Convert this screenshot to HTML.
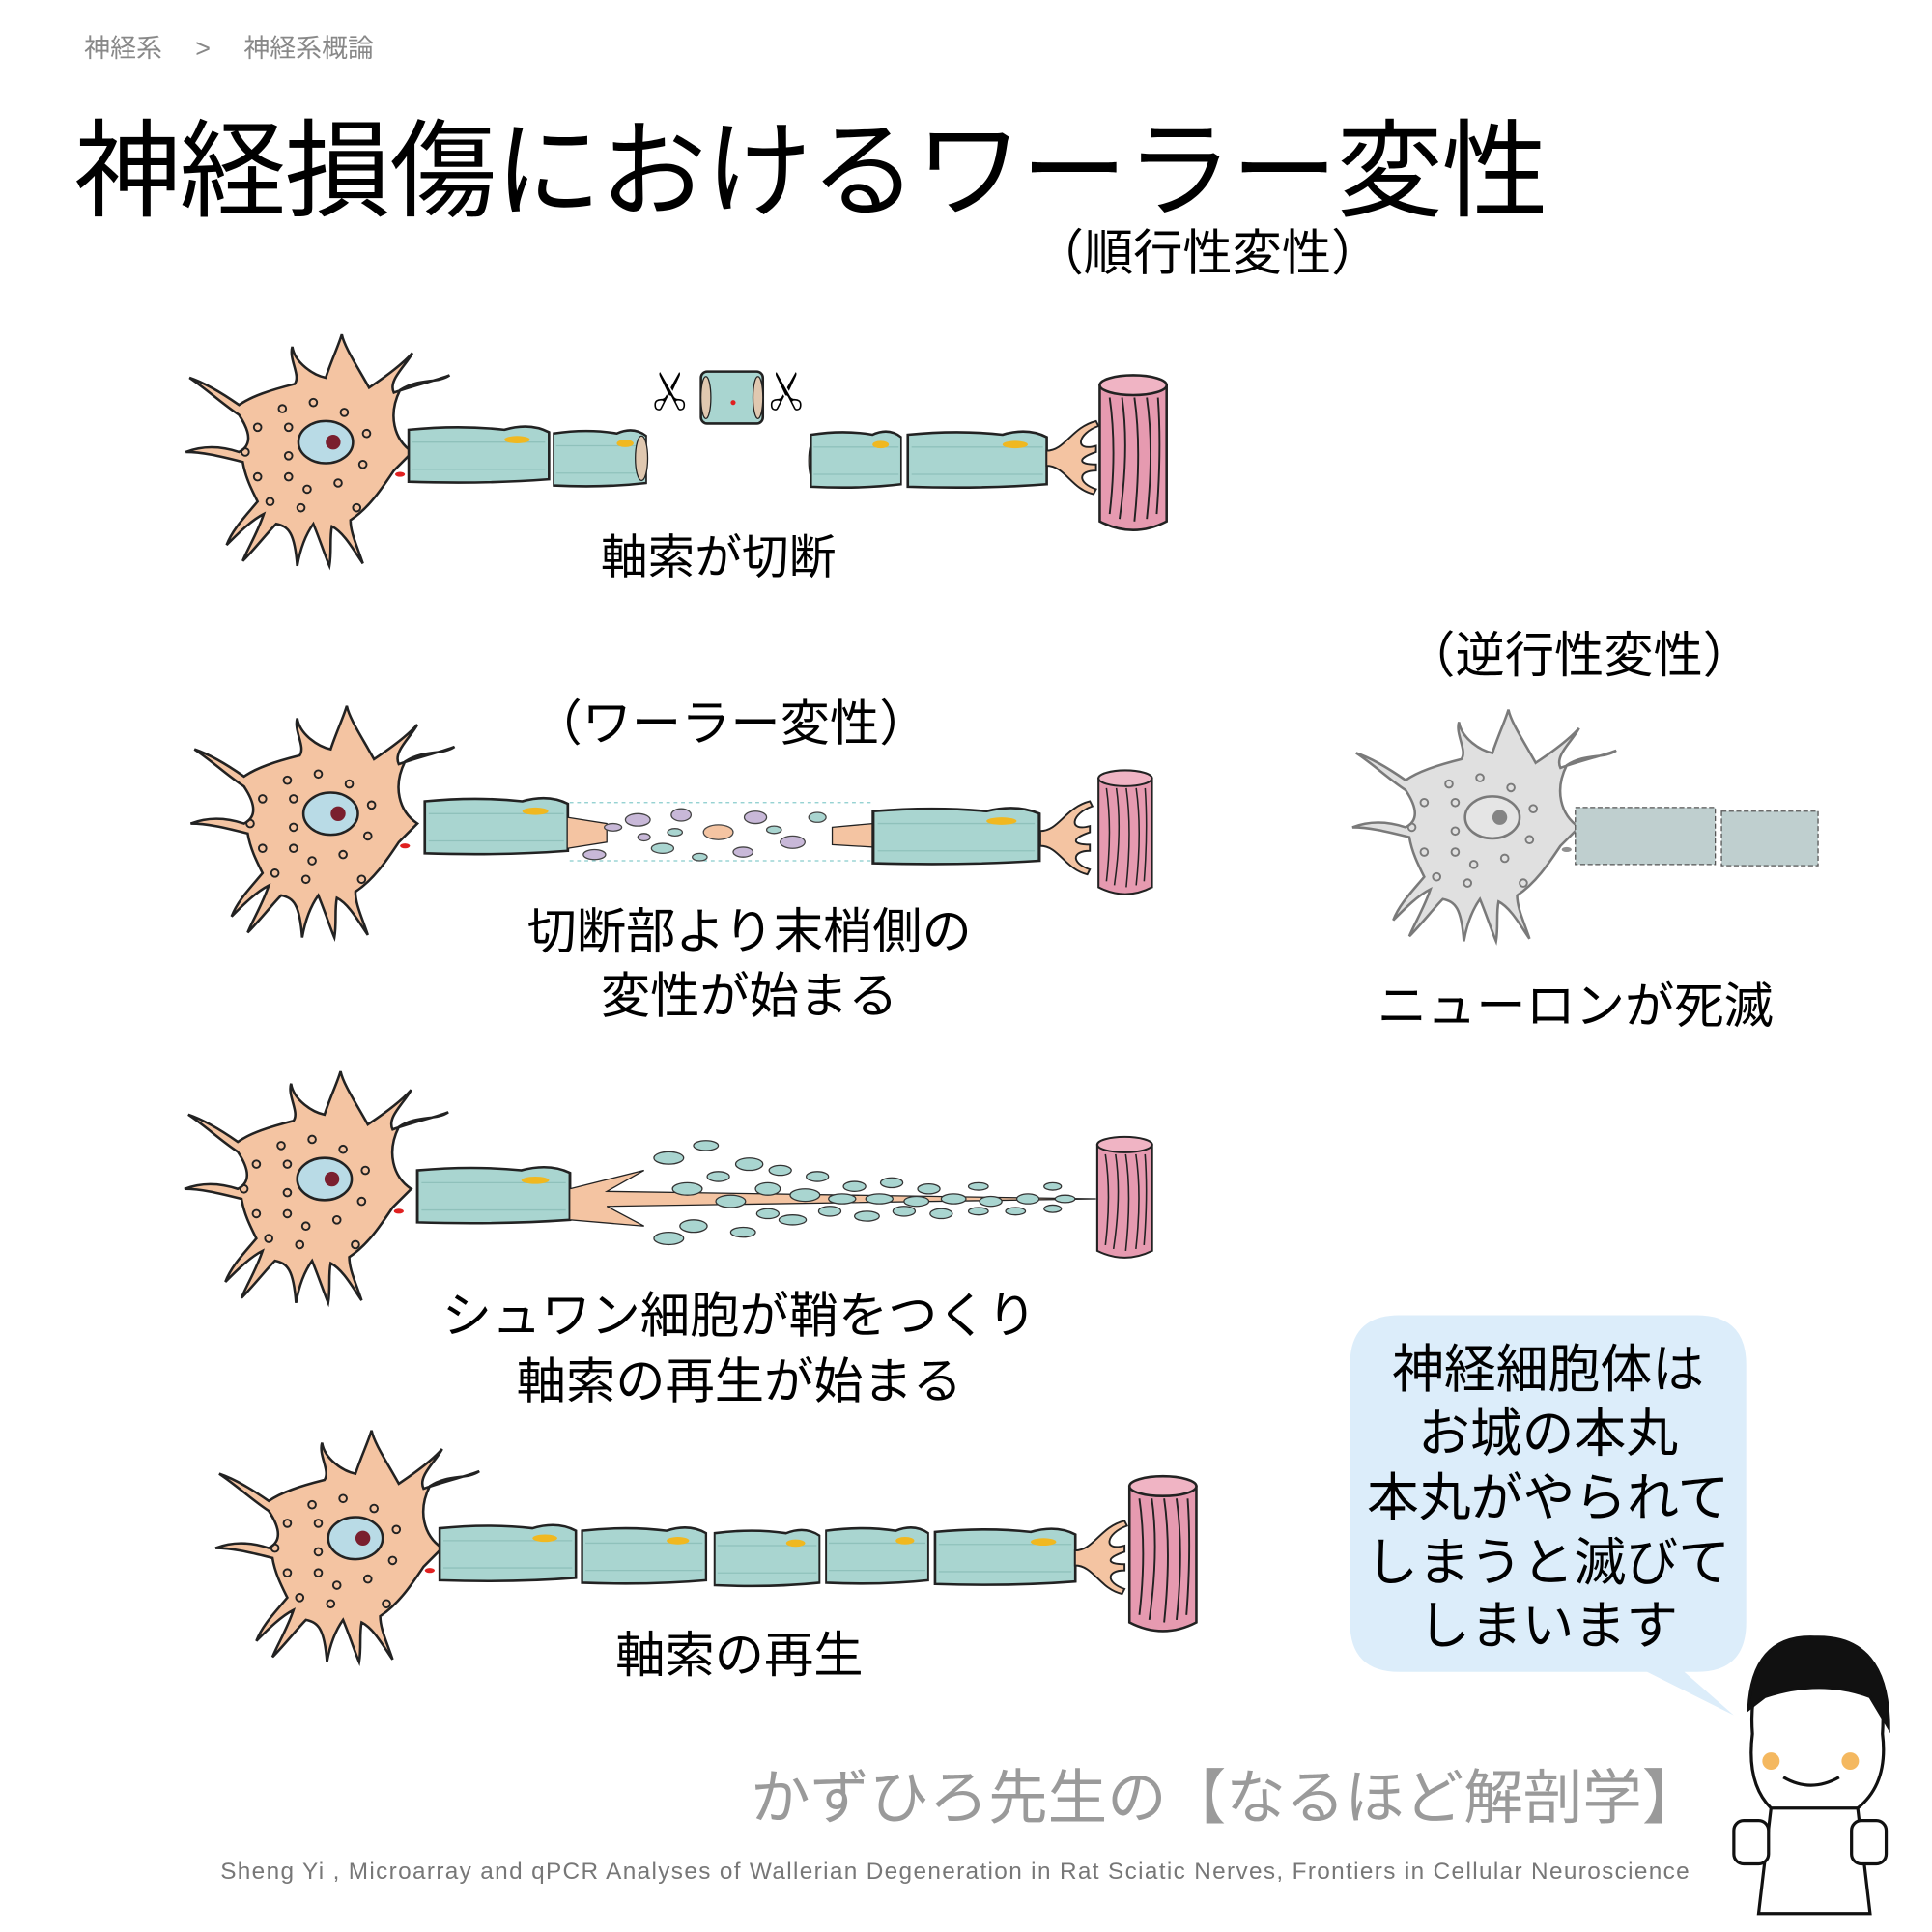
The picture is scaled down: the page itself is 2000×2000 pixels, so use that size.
<!DOCTYPE html>
<html><head><meta charset="utf-8"><style>
html,body{margin:0;padding:0;background:#fff;width:2000px;height:2000px;overflow:hidden}
svg{display:block}
text{font-family:"Liberation Sans","Noto Sans CJK JP",sans-serif}
</style></head><body>
<svg width="2000" height="2000" viewBox="0 0 1560 1560" xmlns="http://www.w3.org/2000/svg">
<defs>
<g id="soma">
<path d="M75,0 C60,-10 55,-30 65,-50 C80,-60 95,-55 105,-62 C95,-58 80,-55 60,-48 C55,-58 70,-70 75,-80 C68,-72 55,-62 40,-52 C30,-70 20,-85 18,-95 C15,-85 10,-75 5,-60 C-5,-62 -20,-72 -22,-85 C-25,-75 -15,-62 -20,-55 C-40,-50 -55,-45 -65,-38 C-75,-45 -90,-55 -105,-60 C-90,-50 -80,-40 -65,-30 C-55,-15 -55,-5 -65,0 C-80,-5 -95,-5 -108,0 C-95,0 -82,3 -62,8 C-60,20 -55,30 -50,40 C-60,52 -70,62 -75,75 C-65,65 -55,55 -45,50 C-50,65 -58,78 -62,88 C-52,78 -42,65 -35,58 C-25,60 -20,65 -18,92 C-15,75 -10,65 -5,58 C0,70 5,85 8,92 C10,80 8,70 10,60 C20,65 28,80 35,90 C30,75 25,65 25,55 C40,45 50,30 60,15 Z" fill="#f4c4a2" stroke="#222" stroke-width="2"/>
<ellipse cx="5" cy="-8" rx="22" ry="17" fill="#b9dbe6" stroke="#222" stroke-width="2"/>
<circle cx="11" cy="-8" r="6" fill="#7a1f2e"/>
<g fill="none" stroke="#222" stroke-width="1.5">
<circle cx="-30" cy="-35" r="3"/><circle cx="-5" cy="-40" r="3"/><circle cx="20" cy="-32" r="3"/><circle cx="-50" cy="-20" r="3"/><circle cx="-25" cy="-20" r="3"/><circle cx="-60" cy="0" r="3"/><circle cx="-25" cy="3" r="3"/><circle cx="-50" cy="20" r="3"/><circle cx="-25" cy="20" r="3"/><circle cx="-10" cy="30" r="3"/><circle cx="15" cy="25" r="3"/><circle cx="35" cy="10" r="3"/><circle cx="38" cy="-15" r="3"/><circle cx="-40" cy="40" r="3"/><circle cx="-15" cy="45" r="3"/><circle cx="30" cy="45" r="3"/></g>
<ellipse cx="65" cy="18" rx="4" ry="2" fill="#e02020"/>
</g>
<g id="seg1"><path d="M0,2 Q40,-2 75,2 Q95,-4 110,4 L110,42 Q60,46 0,44 Z" fill="#a9d5d0" stroke="#222" stroke-width="2"/><line x1="3" y1="12" x2="107" y2="12" stroke="#8fc1bb"/><line x1="3" y1="34" x2="107" y2="34" stroke="#8fc1bb"/><ellipse cx="85" cy="10" rx="10" ry="3" fill="#f0b820"/></g>
<g id="muscle"><path d="M0,8 Q27,-6 54,8 L54,118 Q27,132 0,118 Z" fill="#e69ab0" stroke="#222" stroke-width="2"/><ellipse cx="27" cy="8" rx="27" ry="8" fill="#f0b4c4" stroke="#222" stroke-width="2"/><g stroke="#222" stroke-width="1.5" fill="none"><path d="M8,18 Q14,60 8,112"/><path d="M18,18 Q24,60 16,116"/><path d="M28,18 Q34,60 28,118"/><path d="M38,18 Q44,60 38,116"/><path d="M47,18 Q50,60 46,112"/></g></g>
<g id="term" stroke="#222" stroke-width="1.5" fill="#f4c4a2"><path d="M0,-6 C15,-6 20,-25 40,-30 L42,-26 C25,-20 22,-5 40,-10 L40,-5 C25,0 25,5 40,5 L40,10 C25,10 25,20 40,25 L38,29 C20,25 15,6 0,6 Z"/></g>
</defs>

<text x="68" y="46" font-size="21" fill="#888">神経系　 &gt; 　神経系概論</text>
<text x="60" y="168" font-size="86" fill="#000" textLength="1190">神経損傷におけるワーラー変性</text>
<text x="975" y="218" font-size="40" text-anchor="middle">（順行性変性）</text>

<!-- Row 1 -->
<use href="#soma" transform="translate(258,365)"/>
<use href="#seg1" transform="translate(330,345) scale(1.03,1)"/>
<use href="#seg1" transform="translate(447,348) scale(0.68,1)"/>
<ellipse cx="518" cy="370" rx="5" ry="18" fill="#e0c8b0" stroke="#222"/>
<rect x="566" y="300" width="50" height="42" rx="5" fill="#a9d5d0" stroke="#222" stroke-width="2"/>
<ellipse cx="570" cy="321" rx="4" ry="17" fill="#e0c8b0" stroke="#222"/><ellipse cx="612" cy="321" rx="4" ry="17" fill="#e0c8b0" stroke="#222"/>
<circle cx="592" cy="325" r="2" fill="#e02020"/>
<text x="0" y="0" font-size="34" text-anchor="middle" transform="translate(543,316) rotate(-90)" dominant-baseline="central">✂</text>
<text x="0" y="0" font-size="34" text-anchor="middle" transform="translate(637,316) rotate(-90)" dominant-baseline="central">✂</text>
<ellipse cx="658" cy="372" rx="5" ry="18" fill="#e0c8b0" stroke="#222"/>
<use href="#seg1" transform="translate(655,349) scale(0.66,1)"/>
<use href="#seg1" transform="translate(733,349) scale(1.02,1)"/>
<use href="#term" transform="translate(845,370)"/>
<use href="#muscle" transform="translate(888,303)"/>
<text x="580" y="463" font-size="38" text-anchor="middle">軸索が切断</text>

<!-- Row 2 -->
<text x="590" y="598" font-size="40" text-anchor="middle">（ワーラー変性）</text>
<use href="#soma" transform="translate(262,665)"/>
<use href="#seg1" transform="translate(343,645) scale(1.05,1)"/>
<line x1="460" y1="648" x2="705" y2="648" stroke="#8cc" stroke-dasharray="3,3"/>
<line x1="460" y1="695" x2="705" y2="695" stroke="#8cc" stroke-dasharray="3,3"/>
<path d="M458,660 L490,665 L490,680 L458,685 Z" fill="#f4c4a2" stroke="#222"/>
<g fill="#c8b8d8" stroke="#444" stroke-width="1">
<ellipse cx="515" cy="662" rx="10" ry="5"/><ellipse cx="550" cy="658" rx="8" ry="5"/><ellipse cx="580" cy="672" rx="12" ry="6" fill="#f4c4a2"/><ellipse cx="610" cy="660" rx="9" ry="5"/><ellipse cx="640" cy="680" rx="10" ry="5"/><ellipse cx="535" cy="685" rx="9" ry="4" fill="#a9d5d0"/><ellipse cx="600" cy="688" rx="8" ry="4"/><ellipse cx="660" cy="660" rx="7" ry="4" fill="#a9d5d0"/><ellipse cx="480" cy="690" rx="9" ry="4"/><ellipse cx="520" cy="676" rx="5" ry="3"/><ellipse cx="625" cy="670" rx="6" ry="3" fill="#a9d5d0"/><ellipse cx="565" cy="692" rx="6" ry="3" fill="#a9d5d0"/><ellipse cx="495" cy="668" rx="7" ry="3"/><ellipse cx="545" cy="672" rx="6" ry="3" fill="#a9d5d0"/></g>
<path d="M672,668 L705,665 L705,684 L672,682 Z" fill="#f4c4a2" stroke="#222"/>
<use href="#seg1" transform="translate(705,653) scale(1.22,1)"/>
<use href="#term" transform="translate(840,677)"/>
<use href="#muscle" transform="translate(887,622) scale(0.8,0.8)"/>
<text x="605" y="766" font-size="40" text-anchor="middle">切断部より末梢側の</text>
<text x="605" y="818" font-size="40" text-anchor="middle">変性が始まる</text>

<!-- degenerated -->
<text x="1275" y="543" font-size="40" text-anchor="middle">（逆行性変性）</text>
<use href="#soma" transform="translate(1200,668)" opacity="0.6" style="filter:grayscale(1)"/>
<rect x="1272" y="652" width="113" height="46" fill="#bfcfcf" stroke="#555" stroke-dasharray="4,2"/>
<rect x="1390" y="655" width="78" height="44" fill="#bfcfcf" stroke="#555" stroke-dasharray="4,2"/>
<text x="1272" y="826" font-size="40" text-anchor="middle">ニューロンが死滅</text>

<!-- Row 3 -->
<use href="#soma" transform="translate(257,960)"/>
<use href="#seg1" transform="translate(337,943) scale(1.12,1)"/>
<path d="M460,960 L520,945 L490,962 L885,968 L490,974 L520,990 L460,985 Z" fill="#f4c4a2" stroke="#222"/>
<g fill="#a9d5d0" stroke="#333" stroke-width="1">
<ellipse cx="540" cy="935" rx="12" ry="5"/><ellipse cx="570" cy="925" rx="10" ry="4"/><ellipse cx="605" cy="940" rx="11" ry="5"/><ellipse cx="555" cy="960" rx="12" ry="5"/><ellipse cx="590" cy="970" rx="12" ry="5"/><ellipse cx="620" cy="960" rx="10" ry="5"/><ellipse cx="650" cy="965" rx="12" ry="5"/><ellipse cx="680" cy="968" rx="11" ry="4"/><ellipse cx="710" cy="968" rx="11" ry="4"/><ellipse cx="740" cy="970" rx="10" ry="4"/><ellipse cx="770" cy="968" rx="10" ry="4"/><ellipse cx="800" cy="970" rx="9" ry="4"/><ellipse cx="830" cy="968" rx="9" ry="4"/><ellipse cx="860" cy="968" rx="8" ry="3"/><ellipse cx="560" cy="990" rx="11" ry="5"/><ellipse cx="600" cy="995" rx="10" ry="4"/><ellipse cx="640" cy="985" rx="11" ry="4"/><ellipse cx="700" cy="982" rx="10" ry="4"/><ellipse cx="760" cy="980" rx="9" ry="4"/><ellipse cx="820" cy="978" rx="8" ry="3"/><ellipse cx="540" cy="1000" rx="12" ry="5"/><ellipse cx="660" cy="950" rx="9" ry="4"/><ellipse cx="720" cy="955" rx="9" ry="4"/><ellipse cx="790" cy="958" rx="8" ry="3"/><ellipse cx="850" cy="958" rx="7" ry="3"/><ellipse cx="630" cy="945" rx="9" ry="4"/><ellipse cx="690" cy="958" rx="9" ry="4"/><ellipse cx="750" cy="960" rx="9" ry="4"/><ellipse cx="670" cy="978" rx="9" ry="4"/><ellipse cx="730" cy="978" rx="9" ry="4"/><ellipse cx="790" cy="978" rx="8" ry="3"/><ellipse cx="850" cy="976" rx="7" ry="3"/><ellipse cx="580" cy="950" rx="9" ry="4"/><ellipse cx="620" cy="980" rx="9" ry="4"/></g>
<use href="#muscle" transform="translate(886,918) scale(0.82,0.78)"/>
<text x="597" y="1076" font-size="40" text-anchor="middle">シュワン細胞が鞘をつくり</text>
<text x="597" y="1129" font-size="40" text-anchor="middle">軸索の再生が始まる</text>

<!-- Row 4 -->
<use href="#soma" transform="translate(282,1250)"/>
<use href="#seg1" transform="translate(355,1232)"/>
<use href="#seg1" transform="translate(470,1234) scale(0.91,1)"/>
<use href="#seg1" transform="translate(577,1236) scale(0.77,1)"/>
<use href="#seg1" transform="translate(667,1234) scale(0.75,1)"/>
<use href="#seg1" transform="translate(755,1235) scale(1.03,1)"/>
<use href="#term" transform="translate(868,1258)"/>
<use href="#muscle" transform="translate(912,1192)"/>
<text x="597" y="1350" font-size="40" text-anchor="middle">軸索の再生</text>

<!-- bubble -->
<path d="M1130,1062 L1370,1062 Q1410,1062 1410,1102 L1410,1310 Q1410,1350 1370,1350 L1360,1350 L1400,1385 L1330,1350 L1130,1350 Q1090,1350 1090,1310 L1090,1102 Q1090,1062 1130,1062 Z" fill="#dcedfa"/>
<g font-size="42" text-anchor="middle">
<text x="1250" y="1120">神経細胞体は</text>
<text x="1250" y="1172">お城の本丸</text>
<text x="1250" y="1224">本丸がやられて</text>
<text x="1250" y="1276">しまうと滅びて</text>
<text x="1250" y="1327">しまいます</text></g>

<!-- character -->
<g stroke="#111" stroke-width="2.5">
<path d="M1415,1400 Q1410,1330 1465,1325 Q1525,1325 1520,1400 Q1525,1440 1500,1460 L1430,1460 Q1410,1440 1415,1400 Z" fill="#fff"/>
<path d="M1412,1380 Q1415,1320 1465,1322 Q1525,1320 1525,1395 L1510,1370 Q1470,1355 1425,1370 Z" fill="#111"/>
<path d="M1430,1460 L1420,1545 L1510,1545 L1500,1460 Z" fill="#fff"/>
<rect x="1400" y="1470" width="28" height="35" rx="8" fill="#fff"/><rect x="1495" y="1470" width="28" height="35" rx="8" fill="#fff"/>
<path d="M1440,1435 Q1462,1448 1485,1435" fill="none"/></g>
<circle cx="1430" cy="1422" r="7" fill="#f4b860"/><circle cx="1494" cy="1422" r="7" fill="#f4b860"/>

<text x="990" y="1468" font-size="48" fill="#9a9a9a" text-anchor="middle">かずひろ先生の【なるほど解剖学】</text>
<text x="771" y="1517" font-size="19" fill="#777" text-anchor="middle" textLength="1186">Sheng Yi , Microarray and qPCR Analyses of Wallerian Degeneration in Rat Sciatic Nerves, Frontiers in Cellular Neuroscience</text>
</svg>
</body></html>
